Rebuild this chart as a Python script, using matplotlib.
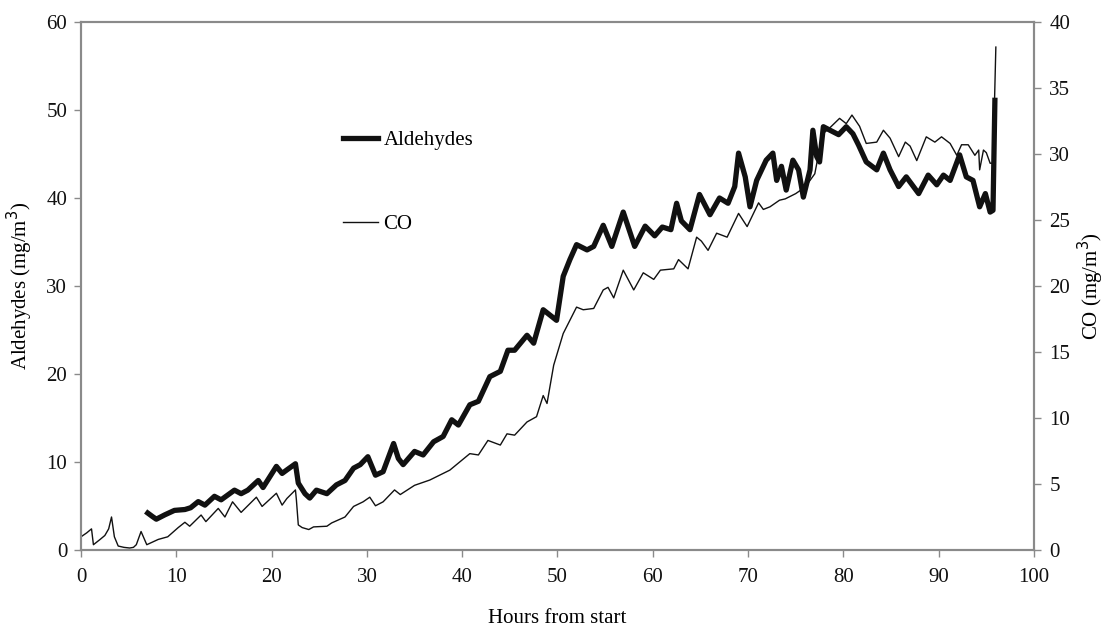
import matplotlib
matplotlib.use("Agg")
import matplotlib.pyplot as plt
from matplotlib.lines import Line2D

plt.rcParams['font.family'] = ['Liberation Serif', 'DejaVu Serif']

ald_hours = [7.0, 7.5, 7.9, 8.8, 9.8, 10.9, 11.5, 12.3, 13.0, 14.0, 14.7, 16.1, 16.8, 17.5,
             18.6, 19.1, 20.5, 21.1, 21.6, 22.5, 22.8, 23.5, 24.0, 24.7, 25.8, 26.8, 27.7,
             28.6, 29.3, 30.1, 30.9, 31.7, 32.8, 33.3, 33.8, 35.0, 35.9, 37.0, 38.0, 38.9,
             39.6, 40.8, 41.7, 42.9, 44.0, 44.8, 45.5, 46.8, 47.5, 48.5, 49.2, 49.9, 50.6,
             51.3, 52.0, 53.1, 53.8, 54.8, 55.7, 56.9, 58.1, 59.2, 60.2, 61.0, 61.9, 62.5,
             63.0, 63.9, 64.9, 66.0, 67.0, 67.9, 68.6, 69.0, 69.7, 70.2, 70.9, 71.9, 72.6,
             73.0, 73.5, 74.0, 74.7, 75.3, 75.8, 76.5, 76.8, 77.2, 77.5, 77.9, 78.6, 79.5,
             80.3, 81.0, 81.6, 82.4, 83.5, 84.2, 84.9, 85.8, 86.6, 87.9, 88.9, 89.8, 90.5,
             91.2, 92.2, 92.9, 93.6, 94.3, 94.9, 95.4, 95.7, 95.9]
ald_vals = [4.2, 3.8, 3.5, 4.0, 4.5, 4.6, 4.8, 5.5, 5.1, 6.1, 5.7, 6.8, 6.4, 6.8,
            7.9, 7.1, 9.5, 8.7, 9.1, 9.8, 7.6, 6.4, 5.9, 6.8, 6.4, 7.4, 7.9,
            9.3, 9.7, 10.6, 8.5, 8.9, 12.1, 10.4, 9.7, 11.2, 10.8, 12.3, 12.9, 14.8,
            14.2, 16.5, 16.9, 19.7, 20.3, 22.7, 22.7, 24.4, 23.5, 27.3, 26.7, 26.1, 31.1,
            33.0, 34.7, 34.1, 34.5, 36.9, 34.5, 38.4, 34.5, 36.8, 35.7, 36.7, 36.4, 39.4,
            37.4, 36.4, 40.4, 38.1, 40.0, 39.4, 41.3, 45.1, 42.4, 39.0, 42.0, 44.3, 45.1,
            42.0, 43.6, 40.9, 44.3, 43.2, 40.1, 43.2, 47.7, 44.7, 44.1, 48.1, 47.7, 47.2,
            48.1, 47.3, 46.0, 44.1, 43.2, 45.1, 43.2, 41.3, 42.4, 40.5, 42.6, 41.5, 42.6,
            42.0, 44.9, 42.4, 42.0, 39.0, 40.5, 38.4, 38.6, 51.1]

co_hours = [0.0, 0.6, 1.1, 1.3, 2.0, 2.5, 2.9, 3.2, 3.5, 3.9, 4.5, 5.1, 5.5, 5.8, 6.3, 6.9,
            8.1, 9.1, 10.2, 10.9, 11.4, 12.6, 13.1, 14.4, 15.1, 15.9, 16.8, 18.4, 19.0,
            20.5, 21.1, 21.6, 22.5, 22.6, 22.8, 23.2, 23.9, 24.4, 25.8, 26.3, 27.7, 28.6,
            29.6, 30.3, 30.9, 31.7, 32.9, 33.5, 35.0, 36.6, 38.7, 40.8, 41.7, 42.7, 44.0,
            44.7, 45.5, 46.8, 47.8, 48.5, 48.9, 49.6, 50.6, 52.0, 52.7, 53.8, 54.8, 55.3,
            55.9, 56.9, 58.0, 59.0, 60.1, 60.8, 62.2, 62.7, 63.7, 64.6, 65.1, 65.8, 66.7,
            67.8, 69.0, 69.9, 71.1, 71.6, 72.3, 73.3, 73.9, 75.0, 76.0, 77.0, 77.8, 78.6,
            79.6, 80.3, 80.9, 81.7, 82.4, 83.5, 84.2, 84.9, 85.8, 86.5, 87.0, 87.7, 88.7,
            89.6, 90.3, 91.2, 91.9, 92.4, 93.1, 93.8, 94.2, 94.3, 94.7, 95.0, 95.4, 95.7,
            96.0]
co_vals = [1.0, 1.3, 1.6, 0.4, 0.8, 1.1, 1.6, 2.5, 1.0, 0.3, 0.2, 0.15, 0.2, 0.4, 1.4, 0.4,
           0.8, 1.0, 1.7, 2.1, 1.8, 2.65, 2.15, 3.15, 2.5, 3.65, 2.85, 4.0, 3.3,
           4.3, 3.4, 3.9, 4.55, 3.8, 1.9, 1.7, 1.55, 1.75, 1.8, 2.05, 2.5, 3.3,
           3.65, 4.0, 3.35, 3.65, 4.55, 4.2, 4.9, 5.3, 6.05, 7.3, 7.2, 8.3, 7.95,
           8.8, 8.7, 9.7, 10.1, 11.7, 11.1, 14.0, 16.4, 18.4, 18.2, 18.3, 19.7, 19.9,
           19.1, 21.2, 19.7, 21.0, 20.5, 21.2, 21.3, 22.0, 21.3, 23.7, 23.4, 22.7, 24.0,
           23.7, 25.5, 24.5, 26.3, 25.8, 26.0, 26.5, 26.6, 27.0, 27.5, 28.5, 31.5, 32.0,
           32.7, 32.3, 32.95, 32.1, 30.8, 30.9, 31.8, 31.2, 29.8, 30.9, 30.6, 29.5, 31.3,
           30.9, 31.3, 30.8, 29.9, 30.7, 30.7, 29.9, 30.3, 28.8, 30.3, 30.1, 29.3, 29.3,
           38.1]

x_ticks = list(range(0, 101, 10))
left_ticks = list(range(0, 61, 10))
right_ticks = list(range(0, 41, 5))

fig = plt.figure(figsize=(11.1, 6.34), dpi=100)
ax = fig.add_axes([0.073, 0.1325, 0.8585, 0.8328])
ax2 = ax.twinx()

spine_col = '#8a8a8a'
ax.plot(ald_hours, ald_vals, color='#111111', lw=3.8, solid_joinstyle='round', zorder=3)
ax2.plot(co_hours, co_vals, color='#111111', lw=1.0, zorder=2)

ax.set_xlim(0, 100)
ax.set_ylim(0, 60)
ax2.set_ylim(0, 40)
ax.set_xticks(x_ticks)
ax.set_yticks(left_ticks)
ax2.set_yticks(right_ticks)

for a in (ax, ax2):
    for s in a.spines.values():
        s.set_color(spine_col)
        s.set_linewidth(1.5)
    a.tick_params(colors=spine_col, labelcolor='#111111', labelsize=15, length=5, width=1)

ax.set_xlabel('Hours from start', fontsize=15, labelpad=16)
ax.set_ylabel('Aldehydes (mg/m$^3$)', fontsize=15, labelpad=8)
ax2.set_ylabel('CO (mg/m$^3$)', fontsize=15, labelpad=4)
ax.tick_params(axis='x', pad=8)
ax.tick_params(axis='y', pad=5)
ax2.tick_params(axis='y', pad=6)

handles = [Line2D([], [], color='#111111', lw=3.8), Line2D([], [], color='#111111', lw=1.0)]
ax.legend(handles, ['Aldehydes', 'CO'], loc='upper left', bbox_to_anchor=(0.255, 0.83),
          frameon=False, fontsize=15, handlelength=1.7, handletextpad=0.25, labelspacing=3.1)

fig.savefig('out.png', dpi=100)
